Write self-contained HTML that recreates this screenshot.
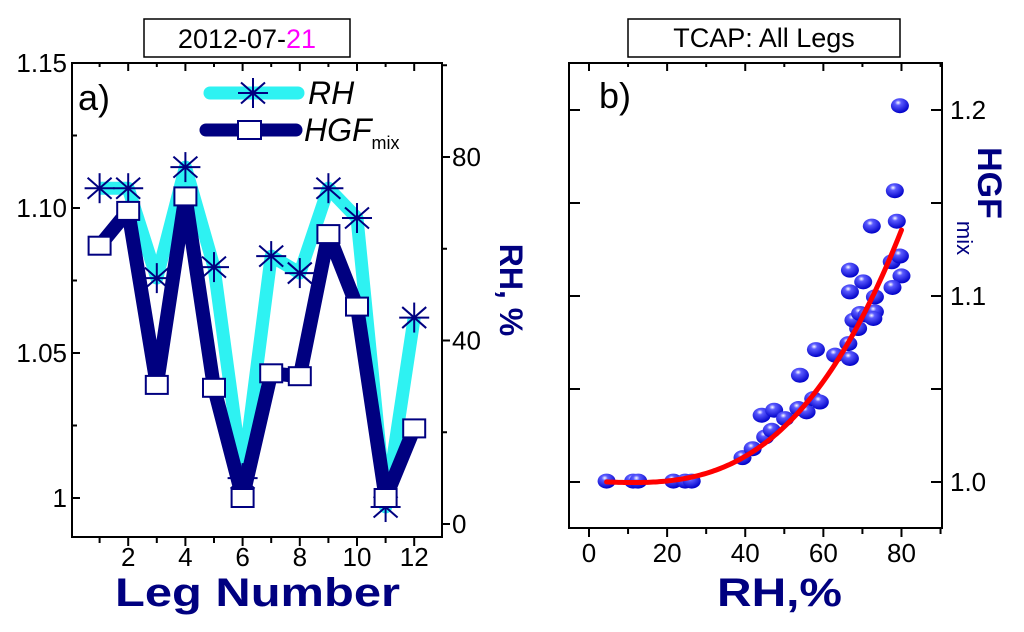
<!DOCTYPE html>
<html><head><meta charset="utf-8"><style>
body{margin:0;background:#fff;width:1024px;height:627px;overflow:hidden}
svg{font-family:"Liberation Sans",Arial,sans-serif}
</style></head><body>
<svg id="chart" width="1024" height="627" viewBox="0 0 1024 627">
<defs>
<radialGradient id="ball" cx="0.4" cy="0.3" r="0.7">
<stop offset="0" stop-color="#ffffff"/><stop offset="0.25" stop-color="#5a5aff"/><stop offset="1" stop-color="#0000c8"/>
</radialGradient>
</defs>
<g id="pa"></g>
<g id="pb"></g>
</svg>
<script>
// Panel a data
const legs = [1,2,3,4,5,6,7,8,9,10,11,12];
const rhValues = [73.2,73.2,53.6,77.8,56,10,58.4,54.7,73.2,66.7,3.7,45];
const hgfValues = [1.087,1.099,1.039,1.104,1.038,1.0,1.043,1.042,1.091,1.066,1.0,1.024];
const leftTicks = [1.0,1.05,1.10,1.15];
const leftTickLabels = ["1","1.05","1.10","1.15"];
const rightTicks = [0,40,80];
const xTicks = [2,4,6,8,10,12];
// Panel b data
const scatterRH = [4.5,11.3,12.6,21.6,24.6,26.3,39.3,41.9,45.1,46.8,44.2,47.4,50.2,54.0,53.6,55.7,57.4,59.1,58.1,63.0,66.8,66.4,68.9,67.7,69.4,71.1,73.2,72.8,73.2,70.2,66.8,66.8,72.4,78.3,78.8,79.6,77.5,79.6,80.0,77.7];
const scatterHGF = [1.0005,1.0005,1.0005,1.0005,1.0005,1.0005,1.0131,1.0179,1.0242,1.0278,1.0359,1.0386,1.0341,1.0574,1.0395,1.0377,1.0448,1.0430,1.0712,1.0682,1.0664,1.0744,1.0825,1.0870,1.0906,1.0897,1.0915,1.0879,1.0995,1.1076,1.1022,1.1139,1.1376,1.1566,1.1402,1.2023,1.1184,1.1215,1.1108,1.1046];
const fitCoeffs = [1.0, -0.00008, 3.4e-6, 2.9e-7]; // in (RH-5)
const fitRange = [4.5, 80];
const bYTicks = [1.0,1.1,1.2];
const bYTickLabels = ["1.0","1.1","1.2"];
const bXTicks = [0,20,40,60,80];

const NS="http://www.w3.org/2000/svg";
function mk(parent,tag,attrs,text){const e=document.createElementNS(NS,tag);for(const k in attrs)e.setAttribute(k,attrs[k]);if(text!==undefined)e.textContent=text;parent.appendChild(e);return e;}
const NAVY="#000080", CYAN="#2ef2f2";

// ---- Panel a ----
const pa=document.getElementById('pa');
const ax=v=>71+(v)*28.6;
const ayL=v=>63+(1.15-v)*2900;
const ayR=v=>524-v*4.5875;
let e;
e=mk(pa,'rect',{x:72,y:63,width:370,height:474,fill:'none',stroke:'#000','stroke-width':2});

for(let v=1.0;v<=1.1501;v+=0.025){const y=ayL(v);mk(pa,'line',{x1:72,x2:(Math.round(v*1000)%50===0)?80:77,y1:y,y2:y,stroke:'#000','stroke-width':2});}
leftTicks.forEach((v,i)=>{e=mk(pa,'text',{x:67,y:ayL(v)+9,'text-anchor':'end','font-size':26},leftTickLabels[i]);
});
for(let v=0;v<=100;v+=20){const y=ayR(v);mk(pa,'line',{x1:442,x2:v%40===0?450:447,y1:y,y2:y,stroke:'#000','stroke-width':2});}
rightTicks.forEach(v=>{e=mk(pa,'text',{x:452,y:ayR(v)+9,'font-size':26},String(v));
});
for(let v=1;v<=12;v++){const x=ax(v);mk(pa,'line',{x1:x,x2:x,y1:537,y2:v%2?543:546,stroke:'#000','stroke-width':2});mk(pa,'line',{x1:x,x2:x,y1:63,y2:v%2?67:71,stroke:'#000','stroke-width':2});}
xTicks.forEach(v=>{e=mk(pa,'text',{x:ax(v),y:566,'text-anchor':'middle','font-size':26},String(v));
});
// lines
e=mk(pa,'polyline',{points:legs.map((l,i)=>ax(l)+','+ayR(rhValues[i])).join(' '),fill:'none',stroke:CYAN,'stroke-width':13,'stroke-linejoin':'round'});

e=mk(pa,'polyline',{points:legs.map((l,i)=>ax(l)+','+ayL(hgfValues[i])).join(' '),fill:'none',stroke:NAVY,'stroke-width':14,'stroke-linejoin':'round'});

function star(g,x,y,r){const s=mk(g,'g',{stroke:NAVY,'stroke-width':2});
mk(s,'line',{x1:x-r,x2:x+r,y1:y,y2:y});mk(s,'line',{x1:x,x2:x,y1:y-r,y2:y+r});
mk(s,'line',{x1:x-r*.8,x2:x+r*.8,y1:y-r*.7,y2:y+r*.7});mk(s,'line',{x1:x-r*.8,x2:x+r*.8,y1:y+r*.7,y2:y-r*.7});return s;}
legs.forEach((l,i)=>{e=star(pa,ax(l),ayR(rhValues[i]),15);
});
legs.forEach((l,i)=>{e=mk(pa,'rect',{x:ax(l)-11,y:ayL(hgfValues[i])-9,width:22,height:18,fill:'#fff',stroke:NAVY,'stroke-width':2});
});
// legend
const lg=mk(pa,'g',{});
mk(lg,'line',{x1:210,x2:298,y1:93,y2:93,stroke:CYAN,'stroke-width':13,'stroke-linecap':'round'});
star(lg,253,93,15);
mk(lg,'text',{x:308,y:104,'font-size':32,'font-style':'italic'},'RH');
mk(lg,'line',{x1:206,x2:296,y1:130,y2:130,stroke:NAVY,'stroke-width':13,'stroke-linecap':'round'});
mk(lg,'rect',{x:238,y:121,width:23,height:18,fill:'#fff',stroke:NAVY,'stroke-width':2});
const t=mk(lg,'text',{x:304,y:141,'font-size':32,'font-style':'italic'},'HGF');
mk(t,'tspan',{'font-size':18,'font-style':'normal',dy:8},'mix');
e=mk(pa,'text',{x:78,y:110,'font-size':36},'a)');
// title box
e=mk(pa,'rect',{x:144,y:19,width:206,height:38,fill:'#fff',stroke:'#000','stroke-width':1.5});
e=mk(pa,'text',{x:247,y:48,'text-anchor':'middle','font-size':27},'2012-07-');
mk(e,'tspan',{fill:'#ff00ff'},'21');

e=mk(pa,'text',{x:115,y:606,'font-size':40,'font-weight':'bold',fill:NAVY,textLength:285,lengthAdjust:'spacingAndGlyphs'},'Leg Number');

e=mk(pa,'text',{x:0,y:0,transform:'translate(500,290) rotate(90)','text-anchor':'middle','font-size':32,'font-weight':'bold',fill:NAVY},'RH, %');


// ---- Panel b ----
const pb=document.getElementById('pb');
const bx=v=>589+v*3.906;
const by=v=>482-(v-1.0)*1860;
e=mk(pb,'rect',{x:569,y:63,width:373,height:465,fill:'none',stroke:'#000','stroke-width':2});

for(let v=1.0;v<=1.2001;v+=0.05){const y=by(v);mk(pb,'line',{x1:569,x2:580,y1:y,y2:y,stroke:'#000','stroke-width':2});mk(pb,'line',{x1:931,x2:942,y1:y,y2:y,stroke:'#000','stroke-width':2});}
bYTicks.forEach((v,i)=>{e=mk(pb,'text',{x:950,y:by(v)+9,'font-size':26},bYTickLabels[i]);
});
for(let v=0;v<=90;v+=10){const x=bx(v);mk(pb,'line',{x1:x,x2:x,y1:528,y2:v%20?534:537,stroke:'#000','stroke-width':2});mk(pb,'line',{x1:x,x2:x,y1:63,y2:v%20?67:71,stroke:'#000','stroke-width':2});}
bXTicks.forEach(v=>{e=mk(pb,'text',{x:bx(v),y:562,'text-anchor':'middle','font-size':26},String(v));
});
scatterRH.forEach((r,i)=>{e=mk(pb,'ellipse',{cx:bx(r),cy:by(scatterHGF[i]),rx:9,ry:7.5,fill:'url(#ball)'});
});
let pts=[];for(let r=fitRange[0];r<=fitRange[1]+0.01;r+=0.5){const d=r-5;const y=fitCoeffs[0]+fitCoeffs[1]*d+fitCoeffs[2]*d*d+fitCoeffs[3]*d*d*d;pts.push(bx(r)+','+by(y));}
e=mk(pb,'polyline',{points:pts.join(' '),fill:'none',stroke:'#ff0000','stroke-width':5,'stroke-linecap':'round'});

e=mk(pb,'text',{x:599,y:108,'font-size':36},'b)');
mk(pb,'rect',{x:628,y:19,width:272,height:38,fill:'#fff',stroke:'#000','stroke-width':1.5});
e=mk(pb,'text',{x:764,y:47,'text-anchor':'middle','font-size':27},'TCAP: All Legs');

e=mk(pb,'text',{x:717,y:606,'font-size':40,'font-weight':'bold',fill:NAVY,textLength:125,lengthAdjust:'spacingAndGlyphs'},'RH,%');

e=mk(pb,'text',{x:0,y:0,transform:'translate(978,183) rotate(90)','text-anchor':'middle','font-size':34,'font-weight':'bold',fill:NAVY},'HGF');

e=mk(pb,'text',{x:0,y:0,transform:'translate(957,238) rotate(90)','text-anchor':'middle','font-size':22,fill:NAVY},'mix');

</script>
</body></html>
